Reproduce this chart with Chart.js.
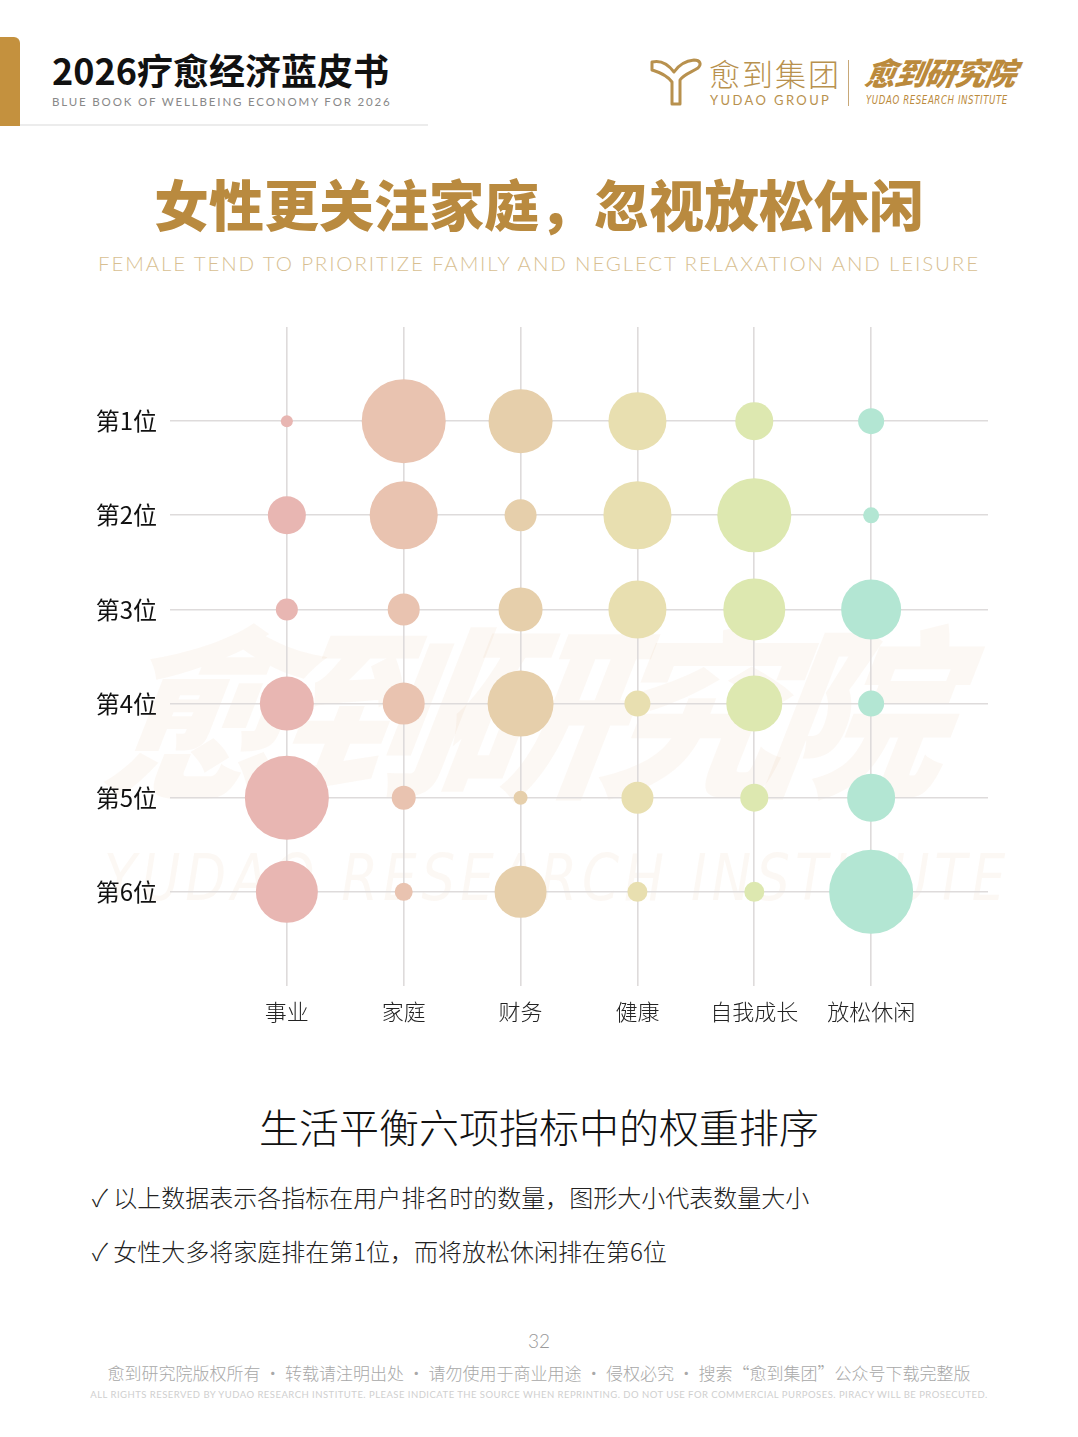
<!DOCTYPE html>
<html lang="zh">
<head>
<meta charset="utf-8">
<title>女性更关注家庭，忽视放松休闲</title>
<script src="https://cdn.jsdelivr.net/npm/chart.js@4.4.1/dist/chart.umd.min.js"></script>
<style>
  html, body { margin: 0; padding: 0; background: #fff; }
  body { width: 1078px; height: 1437px; position: relative; overflow: hidden;
         font-family: "Noto Sans CJK SC", "Noto Sans", sans-serif; }
  .abs { position: absolute; }
  #bar { left: 0; top: 37px; width: 20px; height: 89px; background: #c4913e; border-radius: 0 6px 0 0; }
  #hline { left: 20px; top: 124px; width: 408px; height: 2px; background: #ececec; }
  #book { left: 52px; top: 44px; font-size: 36px; font-weight: 700; color: #111; white-space: nowrap; line-height: 1.4; }
  #bookEn { left: 52px; top: 95px; font-family: "Lato", sans-serif; font-size: 11.5px; color: #888; letter-spacing: 1.85px; white-space: nowrap; }
  #logo { left: 648px; top: 56px; }
  #grp { left: 709px; top: 50px; font-size: 31px; font-weight: 300; color: #b8914e; letter-spacing: 2px; white-space: nowrap; }
  #grpEn { left: 710px; top: 92px; font-family: "Lato", sans-serif; font-size: 13px; color: #b8914e; letter-spacing: 2.4px; white-space: nowrap; }
  #divider { left: 848px; top: 60px; width: 1px; height: 46px; background: #c8a878; }
  #inst { left: 866px; top: 49px; font-size: 31px; font-weight: 900; font-style: italic; color: #bb8a3c; white-space: nowrap; transform: skewX(-10deg); letter-spacing: -1px; }
  #instEn { left: 866px; top: 93px; font-family: "DejaVu Sans", sans-serif; font-size: 12px; color: #bb8a3c; font-style: italic; letter-spacing: 0.8px; white-space: nowrap; transform: scaleX(0.72); transform-origin: left top; }
  #title { left: 0; width: 1078px; top: 162px; text-align: center; font-size: 55px; font-weight: 900; color: #b98a3f; white-space: nowrap; }
  #titleEn { left: 0; width: 1078px; top: 251px; text-align: center; font-family: "Lato", sans-serif; font-weight: 300; font-size: 20.5px; color: #d8bf92; white-space: nowrap; letter-spacing: 1.85px; }
  #wm1 { left: 110px; top: 598px; font-size: 184px; font-weight: 900; font-style: italic; color: rgba(215,165,105,0.075); white-space: nowrap; transform: skewX(-8deg); letter-spacing: -20px; line-height: 1.15; }
  #wm2 { left: 104px; top: 846px; font-family: "DejaVu Sans", sans-serif; font-size: 64px; font-style: italic; color: rgba(215,165,105,0.075); white-space: nowrap; letter-spacing: 6px; line-height: 1; transform: scaleX(0.83); transform-origin: left top; }
  #wrap { left: 80px; top: 300px; width: 920px; height: 760px; }
  #sub { left: 0; width: 1078px; top: 1097px; text-align: center; font-size: 40px; font-weight: 300; color: #111; white-space: nowrap; }
  .note { left: 92px; font-size: 24px; color: #222; white-space: nowrap; font-weight: 300; }
  #page { left: 0; width: 1078px; top: 1329px; text-align: center; font-family: "Lato", sans-serif; font-weight: 300; font-size: 19px; color: #999; }
  #copy { left: 0; width: 1078px; top: 1360px; text-align: center; font-size: 17px; font-weight: 300; color: #a8a8a8; white-space: nowrap; }
  #copyEn { left: 0; width: 1078px; top: 1389px; text-align: center; font-family: "Lato", sans-serif; font-size: 9.5px; color: #cfcfcf; white-space: nowrap; letter-spacing: 0.47px; }
</style>
</head>
<body>
<div id="bar" class="abs"></div>
<div id="hline" class="abs"></div>
<div id="book" class="abs">2026疗愈经济蓝皮书</div>
<div id="bookEn" class="abs">BLUE BOOK OF WELLBEING ECONOMY FOR 2026</div>
<svg id="logo" class="abs" width="56" height="52" viewBox="0 0 56 52">
  <path d="M4 6 C12 4 20 8 26 16 C30 10 36 5 46 4 C52 4 54 8 50 12 C44 16 36 18 32 24 L32 48 L24 48 L24 26 C18 18 10 16 4 14 Z"
        fill="none" stroke="#b8914e" stroke-width="3" stroke-linejoin="round"/>
</svg>
<div id="grp" class="abs">愈到集团</div>
<div id="grpEn" class="abs">YUDAO GROUP</div>
<div id="divider" class="abs"></div>
<div id="inst" class="abs">愈到研究院</div>
<div id="instEn" class="abs">YUDAO RESEARCH INSTITUTE</div>

<div id="title" class="abs">女性更关注家庭，忽视放松休闲</div>
<div id="titleEn" class="abs">FEMALE TEND TO PRIORITIZE FAMILY AND NEGLECT RELAXATION AND LEISURE</div>

<div id="wm1" class="abs">愈到研究院</div>
<div id="wm2" class="abs">YUDAO RESEARCH INSTITUTE</div>

<div id="wrap" class="abs"><canvas id="chart"></canvas></div>

<div id="sub" class="abs">生活平衡六项指标中的权重排序</div>
<div class="abs note" style="top:1179px">✓ 以上数据表示各指标在用户排名时的数量，图形大小代表数量大小</div>
<div class="abs note" style="top:1233px">✓ 女性大多将家庭排在第1位，而将放松休闲排在第6位</div>

<div id="page" class="abs">32</div>
<div id="copy" class="abs">愈到研究院版权所有 · 转载请注明出处 · 请勿使用于商业用途 · 侵权必究 · 搜索“愈到集团”公众号下载完整版</div>
<div id="copyEn" class="abs">ALL RIGHTS RESERVED BY YUDAO RESEARCH INSTITUTE.  PLEASE INDICATE THE SOURCE WHEN REPRINTING. DO NOT USE FOR COMMERCIAL PURPOSES. PIRACY WILL BE PROSECUTED.</div>

<script>
// categories (x) and rank labels (y)
const categories = ['事业', '家庭', '财务', '健康', '自我成长', '放松休闲'];
const ranks = ['第1位', '第2位', '第3位', '第4位', '第5位', '第6位'];

// bubble size, rank 1..6 for each category
const careerSize = [6, 19, 11, 27, 42, 31];
const familySize = [42, 34, 16, 21, 12, 9];
const financeSize = [32, 16, 22, 33, 7, 26];
const healthSize = [29, 34, 29, 13, 16, 10];
const growthSize = [19, 37, 31, 28, 14, 10];
const leisureSize = [13, 8, 30, 13, 24, 42];

const colors = ['#e8b6b2', '#e9c3b0', '#e6cfab', '#e8dfb0', '#dde8b0', '#b3e6d3'];
const sizes = [careerSize, familySize, financeSize, healthSize, growthSize, leisureSize];

const datasets = categories.map((name, i) => ({
    label: name,
    data: sizes[i].map((r, j) => ({ x: i, y: j, r: r })),
    backgroundColor: colors[i],
    borderWidth: 0,
    hoverRadius: 0
}));

const gridColor = ctx => (ctx.tick && ctx.tick.value >= 0 && ctx.tick.value <= 5) ? '#dedbdb' : 'rgba(0,0,0,0)';

new Chart(document.getElementById('chart'), {
    type: 'bubble',
    data: { datasets: datasets },
    options: {
        responsive: true,
        maintainAspectRatio: false,
        animation: false,
        layout: { autoPadding: false, padding: { top: 27, right: 12, bottom: 0, left: 0 } },
        plugins: { legend: { display: false }, tooltip: { enabled: false } },
        scales: {
            x: {
                type: 'linear', min: -1, max: 6,
                afterFit: s => { s.height = 74; s.paddingLeft = 0; s.paddingRight = 0; },
                border: { display: false },
                grid: { color: gridColor, lineWidth: 1.6, drawTicks: false },
                ticks: {
                    stepSize: 1, padding: 12, color: '#222',
                    font: { family: '"Noto Sans CJK SC"', size: 22, weight: 300 },
                    callback: v => categories[v] || ''
                }
            },
            y: {
                type: 'linear', min: -1, max: 6, reverse: true,
                afterFit: s => { s.width = 90; s.paddingTop = 0; s.paddingBottom = 0; },
                border: { display: false },
                grid: { color: gridColor, lineWidth: 1.6, drawTicks: false },
                ticks: {
                    stepSize: 1, padding: 13, color: '#111',
                    font: { family: '"Noto Sans CJK SC"', size: 24, weight: 400 },
                    callback: v => ranks[v] || ''
                }
            }
        }
    }
});
</script>
</body>
</html>
